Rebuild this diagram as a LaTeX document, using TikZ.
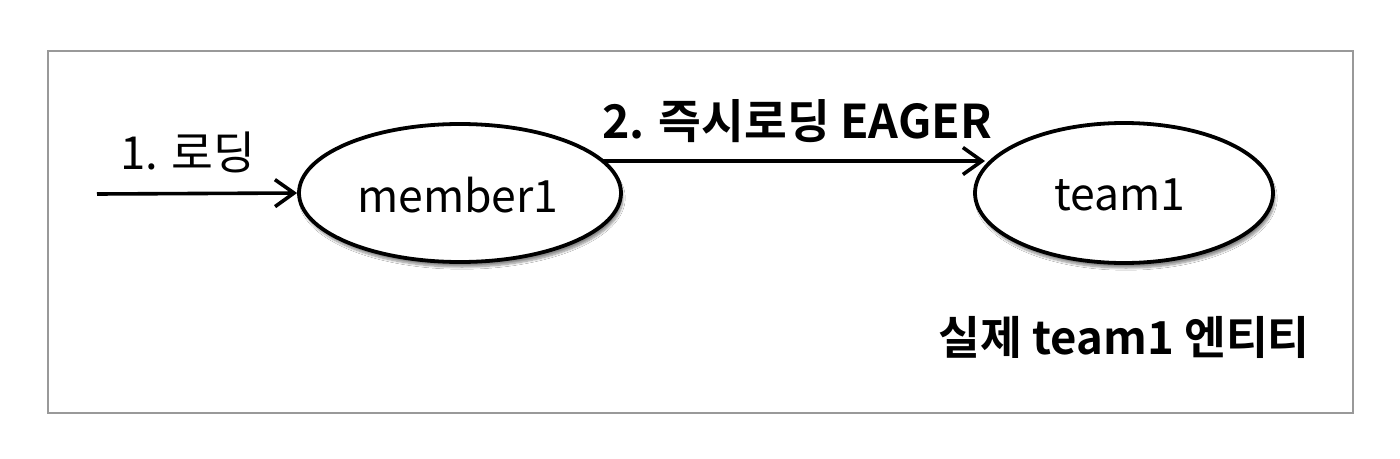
\documentclass[tikz,border=0pt]{standalone}
\usepackage{fontspec}
\setmainfont{Noto Sans CJK KR}
\newfontfamily\krbold{Noto Sans CJK KR Bold}
\usetikzlibrary{arrows.meta,shapes.geometric,shadows.blur}
\begin{document}
\begin{tikzpicture}[x=1pt,y=-1pt,
  entity/.style={draw=black,line width=3.8pt,ellipse,fill=white,inner sep=0pt,
    blur shadow={shadow xshift=2pt,shadow yshift=-5pt,shadow blur steps=8,shadow opacity=45}},
  conn/.style={line width=3.6pt,-{Straight Barb[length=19pt,width=27pt,line width=3.6pt]}},
  lbl/.style={inner sep=0pt,anchor=center}]
\useasboundingbox (0,0) rectangle (1400,458);
\fill[white] (0,0) rectangle (1400,458);
\node[draw=black!40,line width=2pt,minimum width=1305pt,minimum height=362pt,inner sep=0pt] (frame) at (700.5,232) {};
\node[entity,minimum width=322pt,minimum height=138pt] (member) at (460,193) {};
\node[entity,minimum width=298pt,minimum height=140pt] (team) at (1124,193) {};
\node[lbl] (memberT) at (458,195) {\fontsize{44.5pt}{46pt}\selectfont member1};
\node[lbl] (teamT) at (1120,195) {\fontsize{44.5pt}{46pt}\selectfont team1};
\coordinate (start) at (97,194);
\draw[conn] (start) -- (member.west);
\coordinate (a2s) at (603,161);
\coordinate (a2e) at (985,161);
\draw[conn] (a2s) -- (a2e);
\node[lbl] (l1) at (188,152) {\fontsize{45.5pt}{47pt}\selectfont 1. 로딩};
\node[lbl] (l2) at (797,121) {\krbold\fontsize{46.5pt}{48pt}\selectfont 2. 즉시로딩 EAGER};
\node[lbl] (l3) at (1124,337) {\krbold\fontsize{45.5pt}{47pt}\selectfont 실제 team1 엔티티};
\end{tikzpicture}
\end{document}
